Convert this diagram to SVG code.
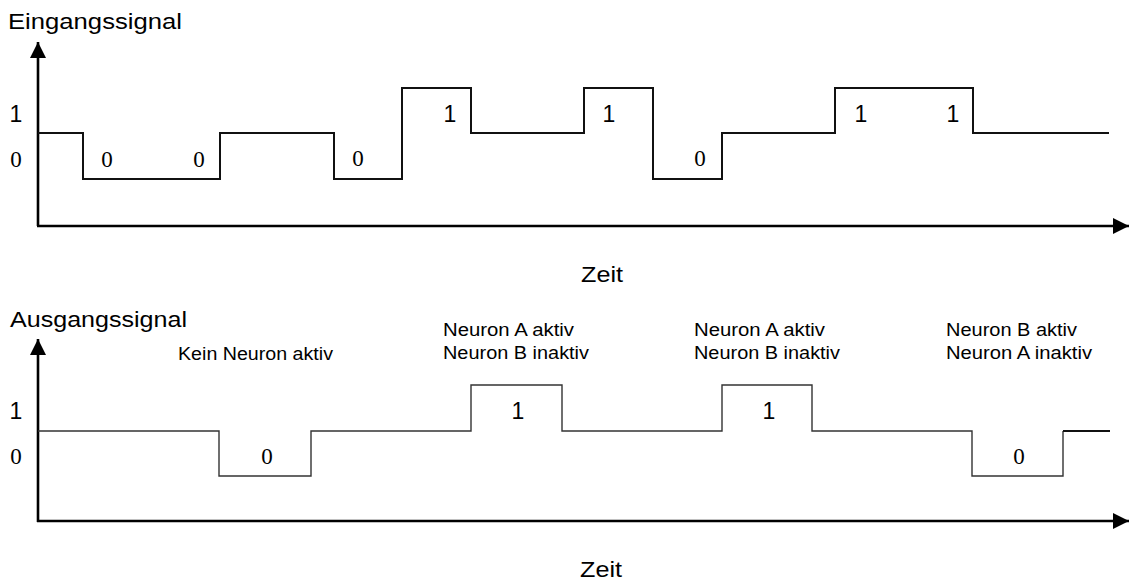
<svg xmlns="http://www.w3.org/2000/svg" width="1130" height="580" viewBox="0 0 1130 580">
<style>
.sans{font-family:"Liberation Sans",Arial,sans-serif;fill:#000}
.serif{font-family:"Liberation Serif","Times New Roman",serif;fill:#000}
.hdr{font-size:22px}
.lbl{font-size:17.5px}
.dig{font-size:23px;text-anchor:middle}
.axis{fill:none;stroke:#000;stroke-width:2.6}
.sig1{fill:none;stroke:#111;stroke-width:2}
.sig2{fill:none;stroke:#333;stroke-width:1.4}
</style>
<defs>
<marker id="arr" markerUnits="userSpaceOnUse" markerWidth="17" markerHeight="16" refX="16" refY="8" orient="auto">
<path d="M0,0 L16,8 L0,16 z" fill="#000"/>
</marker>
</defs>
<rect width="1130" height="580" fill="#fff"/>

<g id="input-panel">
<text class="sans hdr" x="8" y="29" textLength="174" lengthAdjust="spacingAndGlyphs">Eingangssignal</text>
<g id="input-axes">
<path class="axis" d="M38,226 V42" marker-end="url(#arr)"/>
<path class="axis" d="M37,226 H1129" marker-end="url(#arr)"/>
</g>
<path id="input-signal" class="sig1" d="M38,133 H83 V179 H220 V133 H334 V179 H402 V88 H471 V133 H584 V88 H653 V179 H722 V133 H835 V88 H973 V133 H1109"/>
<g id="input-labels">
<text class="sans dig" x="16" y="122">1</text>
<text class="serif dig" x="16" y="167">0</text>
<text class="serif dig" x="107" y="167">0</text>
<text class="serif dig" x="199" y="167">0</text>
<text class="serif dig" x="358" y="166">0</text>
<text class="sans dig" x="450" y="122">1</text>
<text class="sans dig" x="609" y="122">1</text>
<text class="serif dig" x="700" y="166">0</text>
<text class="sans dig" x="861" y="122">1</text>
<text class="sans dig" x="953" y="122">1</text>
</g>
<text class="sans hdr" x="602" y="282" text-anchor="middle" textLength="42" lengthAdjust="spacingAndGlyphs">Zeit</text>
</g>

<g id="output-panel">
<text class="sans hdr" x="10" y="327" textLength="177" lengthAdjust="spacingAndGlyphs">Ausgangssignal</text>
<g id="output-axes">
<path class="axis" d="M38,522 V339" marker-end="url(#arr)"/>
<path class="axis" d="M37,521 H1129" marker-end="url(#arr)"/>
</g>
<path id="output-signal" class="sig2" d="M38,431 H219 V476 H311 V431 H471 V385 H562 V431 H722 V385 H812 V431 H972 V476 H1063 V431"/>
<path class="sig1" d="M1063,431 H1110" style="stroke-width:2.2"/>
<g id="output-labels">
<text class="sans dig" x="16" y="419">1</text>
<text class="serif dig" x="16" y="464">0</text>
<text class="serif dig" x="267" y="464">0</text>
<text class="sans dig" x="518" y="419">1</text>
<text class="sans dig" x="769" y="419">1</text>
<text class="serif dig" x="1019" y="464">0</text>
</g>
<g id="state-labels">
<text class="sans lbl" x="178" y="360" textLength="155" lengthAdjust="spacingAndGlyphs">Kein Neuron aktiv</text>
<text class="sans lbl" x="443" y="336" textLength="131" lengthAdjust="spacingAndGlyphs">Neuron A aktiv</text>
<text class="sans lbl" x="443" y="359" textLength="146" lengthAdjust="spacingAndGlyphs">Neuron B inaktiv</text>
<text class="sans lbl" x="694" y="336" textLength="131" lengthAdjust="spacingAndGlyphs">Neuron A aktiv</text>
<text class="sans lbl" x="694" y="359" textLength="146" lengthAdjust="spacingAndGlyphs">Neuron B inaktiv</text>
<text class="sans lbl" x="946" y="336" textLength="131" lengthAdjust="spacingAndGlyphs">Neuron B aktiv</text>
<text class="sans lbl" x="946" y="359" textLength="146" lengthAdjust="spacingAndGlyphs">Neuron A inaktiv</text>
</g>
<text class="sans hdr" x="601" y="577" text-anchor="middle" textLength="42" lengthAdjust="spacingAndGlyphs">Zeit</text>
</g>
</svg>
